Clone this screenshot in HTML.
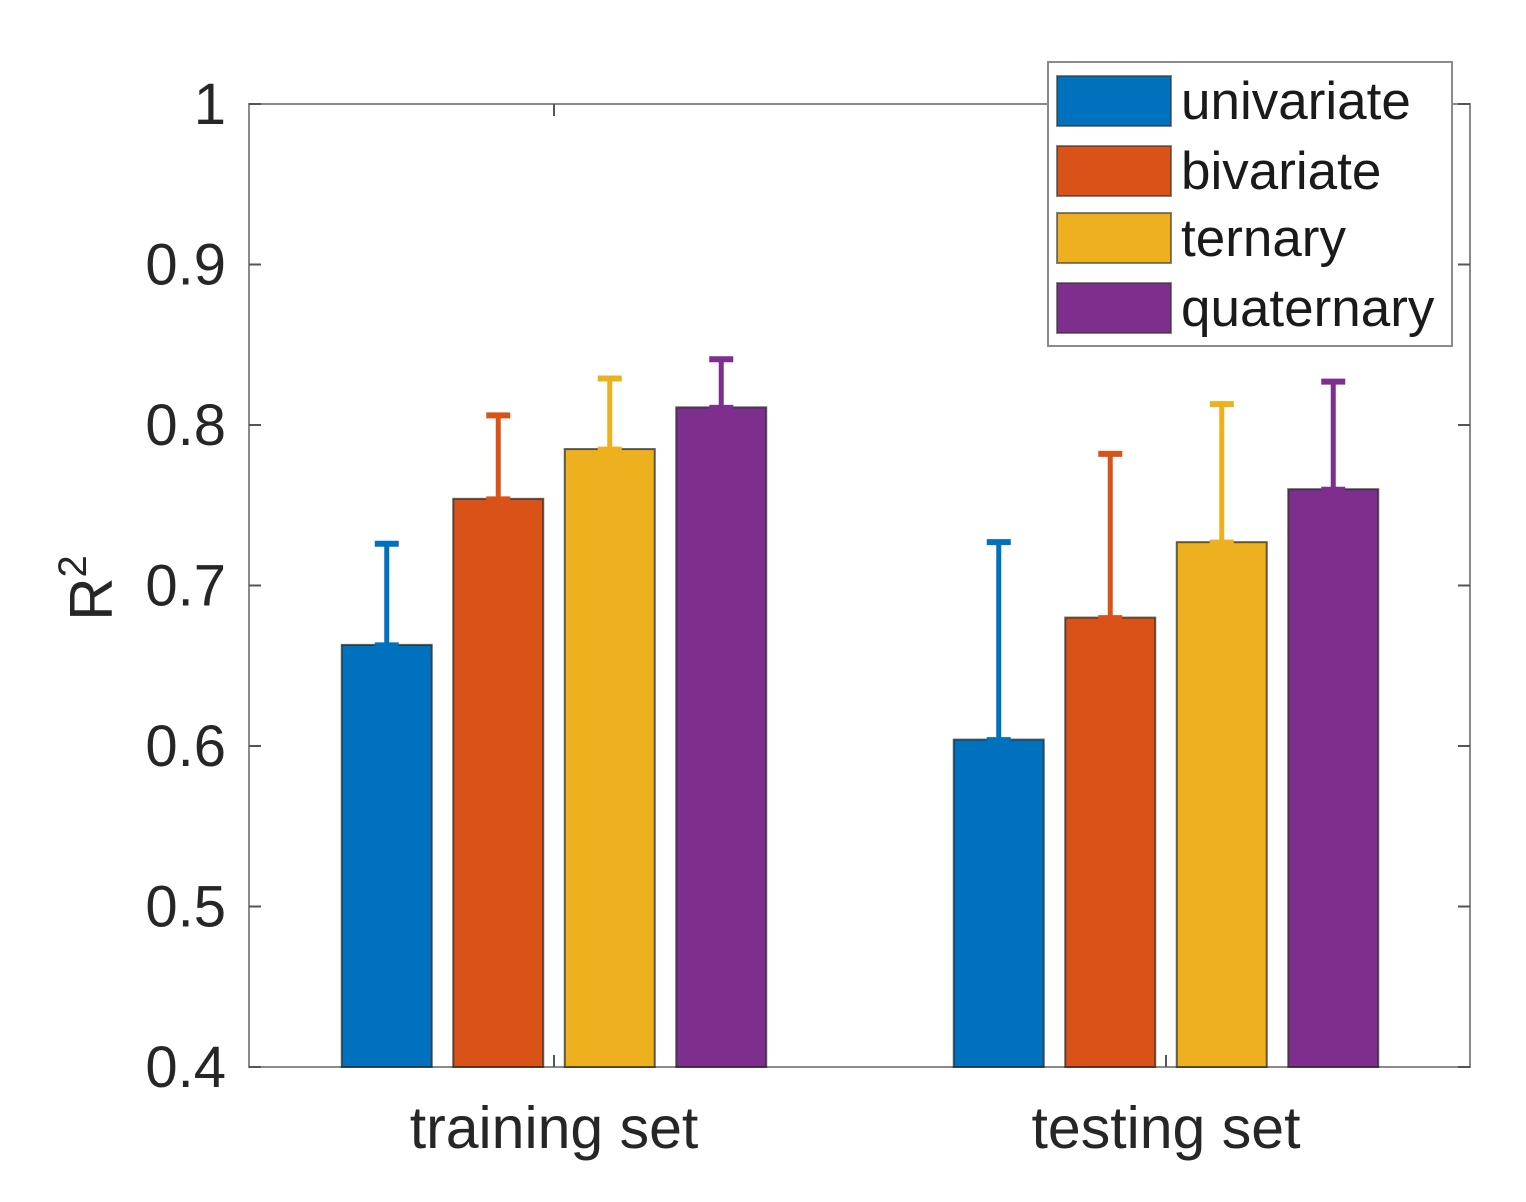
<!DOCTYPE html>
<html><head><meta charset="utf-8"><style>
html,body{margin:0;padding:0;background:#fff;}
svg{display:block;font-family:"Liberation Sans",Arial,sans-serif;}
</style></head><body>
<svg id="chart" width="1526" height="1202" viewBox="0 0 1526 1202" xmlns="http://www.w3.org/2000/svg">
<g id="axes"></g>
<g id="bars"></g>
<g id="legend"></g>
</svg>
<script>
const categories = ["training set", "testing set"];
const seriesNames = ["univariate", "bivariate", "ternary", "quaternary"];
const seriesColors = ["#0072BD", "#D95319", "#EDB120", "#7E2F8E"];
const univariate = [0.663, 0.604];
const bivariate = [0.754, 0.680];
const ternary = [0.785, 0.727];
const quaternary = [0.811, 0.760];
const univariateErr = [0.726, 0.727];
const bivariateErr = [0.806, 0.782];
const ternaryErr = [0.829, 0.813];
const quaternaryErr = [0.841, 0.827];
const yTicks = [0.4, 0.5, 0.6, 0.7, 0.8, 0.9, 1];
const yTickLabels = ["0.4", "0.5", "0.6", "0.7", "0.8", "0.9", "1"];

const NS = "http://www.w3.org/2000/svg";
const L = 249, R = 1470, T = 104, B = 1067;
const yMin = 0.4, yMax = 1;
const y = v => B - (v - yMin) / (yMax - yMin) * (B - T);
const groupCenters = [554, 1166];
const x = i => groupCenters[i];
const barW = 90, barStep = 111.5;
function mk(tag, attrs, parent) {
  const e = document.createElementNS(NS, tag);
  for (const k in attrs) e.setAttribute(k, attrs[k]);
  parent.appendChild(e);
  return e;
}
const axes = document.getElementById('axes');
const bars = document.getElementById('bars');
const legend = document.getElementById('legend');

const box = mk('rect', {x: L, y: T, width: R - L, height: B - T, fill: 'none', stroke: '#8a8a8a', 'stroke-width': 2}, axes);



yTicks.forEach((v, i) => {
  const t1 = mk('line', {x1: L, x2: L + 12, y1: y(v), y2: y(v), stroke: '#555', 'stroke-width': 2}, axes);
  
  
  const t2 = mk('line', {x1: R, x2: R - 12, y1: y(v), y2: y(v), stroke: '#555', 'stroke-width': 2}, axes);
  
  
  const lb = mk('text', {x: 226, y: y(v) + 20, 'text-anchor': 'end', 'font-size': 58, fill: '#262626'}, axes);
  lb.textContent = yTickLabels[i];
  
  
});
categories.forEach((c, i) => {
  const t1 = mk('line', {x1: x(i), x2: x(i), y1: B, y2: B - 12, stroke: '#555', 'stroke-width': 2}, axes);
  
  
  const t2 = mk('line', {x1: x(i), x2: x(i), y1: T, y2: T + 12, stroke: '#555', 'stroke-width': 2}, axes);
  
  
  const lb = mk('text', {x: x(i), y: 1148, 'text-anchor': 'middle', 'font-size': 59, fill: '#262626'}, axes);
  lb.textContent = c;
  
  
});
const yt = mk('text', {transform: 'translate(112,588) rotate(-90)', 'text-anchor': 'middle', 'font-size': 60, fill: '#262626'}, axes);
yt.innerHTML = 'R<tspan dy="-26" font-size="40">2</tspan>';



const vals = [univariate, bivariate, ternary, quaternary];
const errs = [univariateErr, bivariateErr, ternaryErr, quaternaryErr];
vals.forEach((s, si) => {
  s.forEach((v, ci) => {
    const cx = x(ci) + (si - 1.5) * barStep;
    const top = y(v);
    const eTop = y(errs[si][ci]);
    const el = mk('line', {x1: cx, x2: cx, y1: top, y2: eTop, stroke: seriesColors[si], 'stroke-width': 5}, bars);
    
    
    const cap = mk('line', {x1: cx - 12, x2: cx + 12, y1: eTop, y2: eTop, stroke: seriesColors[si], 'stroke-width': 6}, bars);
    
    
    const r = mk('rect', {x: cx - barW / 2, y: top, width: barW, height: B - top, fill: seriesColors[si], stroke: '#222', 'stroke-width': 2, 'stroke-opacity': 0.7}, bars);
    
    
    const cap2 = mk('line', {x1: cx - 12, x2: cx + 12, y1: top, y2: top, stroke: seriesColors[si], 'stroke-width': 5}, bars);
    
    
  });
});

const lbox = mk('rect', {x: 1048, y: 62, width: 404, height: 284, fill: '#fff', stroke: '#8a8a8a', 'stroke-width': 2}, legend);


const swY = [76, 146, 213, 283];
seriesNames.forEach((n, i) => {
  const sw = mk('rect', {x: 1057, y: swY[i], width: 114, height: 50, fill: seriesColors[i], stroke: '#333', 'stroke-width': 2, 'stroke-opacity': 0.6}, legend);
  
  
  const t = mk('text', {x: 1181, y: swY[i] + 43, 'font-size': 53, fill: '#1a1a1a'}, legend);
  t.textContent = n;
  
  
});
</script>
</body></html>
